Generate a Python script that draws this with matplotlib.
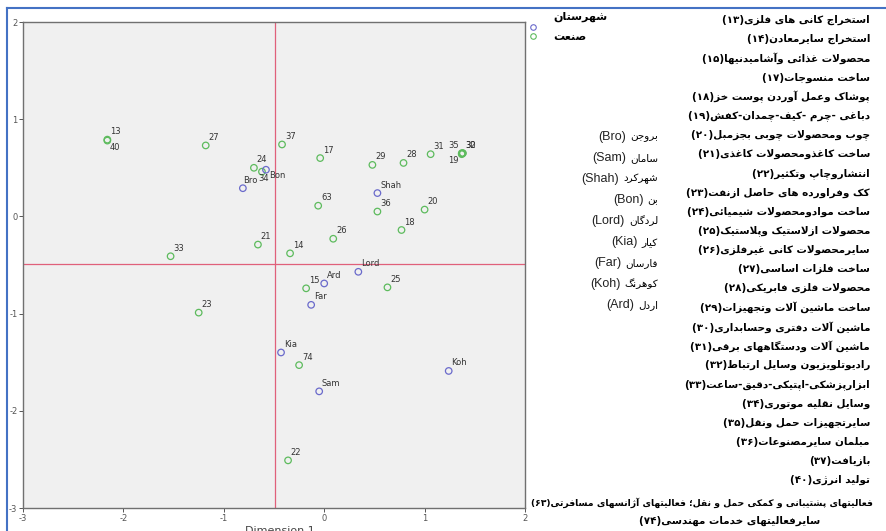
import matplotlib
matplotlib.use('Agg')
import matplotlib.pyplot as plt
from matplotlib.lines import Line2D

plt.rcParams['axes.unicode_minus'] = False

# ---- data: correspondence analysis scores (dimension 1, dimension 2) ----
ind_codes = ['13', '40', '27', '37', '24', '34', '21', '33', '14', '17', '29', '28',
             '31', '35', '30', '32', '19', '63', '36', '20', '18', '26', '15', '25',
             '23', '74', '22']
ind_x = [-2.16, -2.16, -1.18, -0.42, -0.70, -0.62, -0.66, -1.53, -0.34, -0.04, 0.48, 0.79,
         1.06, 1.37, 1.38, 1.38, 1.37, -0.06, 0.53, 1.00, 0.77, 0.09, -0.18, 0.63,
         -1.25, -0.25, -0.36]
ind_y = [0.79, 0.78, 0.73, 0.74, 0.50, 0.46, -0.29, -0.41, -0.38, 0.60, 0.53, 0.55,
         0.64, 0.65, 0.65, 0.65, 0.64, 0.11, 0.05, 0.07, -0.14, -0.23, -0.74, -0.73,
         -0.99, -1.53, -2.51]

city_codes = ['Bro', 'Sam', 'Shah', 'Bon', 'Lord', 'Kia', 'Far', 'Koh', 'Ard']
city_names = ['بروجن', 'سامان', 'شهرکرد', 'بن', 'لردگان', 'کیار', 'فارسان', 'کوهرنگ', 'اردل']
city_x = [-0.81, -0.05, 0.53, -0.58, 0.34, -0.43, -0.13, 1.24, 0.00]
city_y = [0.29, -1.80, 0.24, 0.48, -0.57, -1.40, -0.91, -1.59, -0.69]

cut_x = -0.49
cut_y = -0.485

list_nums = ['13', '14', '15', '17', '18', '19', '20', '21', '22', '23', '24', '25', '26',
             '27', '28', '29', '30', '31', '32', '33', '34', '35', '36', '37', '40', '63', '74']
list_names = [
    'استخراج کانی های فلزی',
    'استخراج سایرمعادن',
    'محصولات غذائی وآشامیدنیها',
    'ساخت منسوجات',
    'پوشاک وعمل آوردن پوست خز',
    'دباغی -چرم -کیف-چمدان-کفش',
    'چوب ومحصولات چوبی بجزمبل',
    'ساخت کاغذومحصولات کاغذی',
    'انتشاروچاپ وتکثیر',
    'کک وفراورده های حاصل ازنفت',
    'ساخت موادومحصولات شیمیائی',
    'محصولات ازلاستیک وپلاستیک',
    'سایرمحصولات کانی غیرفلزی',
    'ساخت فلزات اساسی',
    'محصولات فلزی فابریکی',
    'ساخت ماشین آلات وتجهیزات',
    'ماشین آلات دفتری وحسابداری',
    'ماشین آلات ودستگاههای برقی',
    'رادیوتلویزیون وسایل ارتباط',
    'ابزارپزشکی-اپتیکی-دقیق-ساعت',
    'وسایل نقلیه موتوری',
    'سایرتجهیزات حمل ونقل',
    'مبلمان سایرمصنوعات',
    'بازیافت',
    'تولید انرژی',
    'فعالیتهای پشتیبانی و کمکی حمل و نقل؛ فعالیتهای آژانسهای مسافرتی',
    'سایرفعالیتهای خدمات مهندسی',
]

# ---- minimal arabic shaping (matplotlib has no complex text layout) ----
FORMS = {
    'ا': ('\uFE8D', '\uFE8E'), 'آ': ('\uFE81', '\uFE82'),
    'د': ('\uFEA9', '\uFEAA'), 'ذ': ('\uFEAB', '\uFEAC'),
    'ر': ('\uFEAD', '\uFEAE'), 'ز': ('\uFEAF', '\uFEB0'),
    'ژ': ('\uFB8A', '\uFB8B'), 'و': ('\uFEED', '\uFEEE'),
    'ب': ('\uFE8F', '\uFE90', '\uFE91', '\uFE92'),
    'پ': ('\uFB56', '\uFB57', '\uFB58', '\uFB59'),
    'ت': ('\uFE95', '\uFE96', '\uFE97', '\uFE98'),
    'ث': ('\uFE99', '\uFE9A', '\uFE9B', '\uFE9C'),
    'ج': ('\uFE9D', '\uFE9E', '\uFE9F', '\uFEA0'),
    'چ': ('\uFB7A', '\uFB7B', '\uFB7C', '\uFB7D'),
    'ح': ('\uFEA1', '\uFEA2', '\uFEA3', '\uFEA4'),
    'خ': ('\uFEA5', '\uFEA6', '\uFEA7', '\uFEA8'),
    'س': ('\uFEB1', '\uFEB2', '\uFEB3', '\uFEB4'),
    'ش': ('\uFEB5', '\uFEB6', '\uFEB7', '\uFEB8'),
    'ص': ('\uFEB9', '\uFEBA', '\uFEBB', '\uFEBC'),
    'ض': ('\uFEBD', '\uFEBE', '\uFEBF', '\uFEC0'),
    'ط': ('\uFEC1', '\uFEC2', '\uFEC3', '\uFEC4'),
    'ظ': ('\uFEC5', '\uFEC6', '\uFEC7', '\uFEC8'),
    'ع': ('\uFEC9', '\uFECA', '\uFECB', '\uFECC'),
    'غ': ('\uFECD', '\uFECE', '\uFECF', '\uFED0'),
    'ف': ('\uFED1', '\uFED2', '\uFED3', '\uFED4'),
    'ق': ('\uFED5', '\uFED6', '\uFED7', '\uFED8'),
    'ک': ('\uFB8E', '\uFB8F', '\uFB90', '\uFB91'),
    'گ': ('\uFB92', '\uFB93', '\uFB94', '\uFB95'),
    'ل': ('\uFEDD', '\uFEDE', '\uFEDF', '\uFEE0'),
    'م': ('\uFEE1', '\uFEE2', '\uFEE3', '\uFEE4'),
    'ن': ('\uFEE5', '\uFEE6', '\uFEE7', '\uFEE8'),
    'ه': ('\uFEE9', '\uFEEA', '\uFEEB', '\uFEEC'),
    'ی': ('\uFBFC', '\uFBFD', '\uFBFE', '\uFBFF'),
    'ئ': ('\uFE89', '\uFE8A', '\uFE8B', '\uFE8C'),
}
LAM_ALEF = {'ا': ('\uFEFB', '\uFEFC'), 'آ': ('\uFEF5', '\uFEF6')}


def shape(s):
    out = []
    i = 0
    while i < len(s):
        c = s[i]
        if c not in FORMS:
            out.append(c)
            i += 1
            continue
        prev = s[i - 1] if i > 0 else ''
        left = prev in FORMS and len(FORMS[prev]) == 4
        if c == 'ل' and i + 1 < len(s) and s[i + 1] in LAM_ALEF:
            lig = LAM_ALEF[s[i + 1]]
            out.append(lig[1] if left else lig[0])
            i += 2
            continue
        f = FORMS[c]
        nxt = s[i + 1] if i + 1 < len(s) else ''
        right = len(f) == 4 and nxt in FORMS
        if left and right:
            out.append(f[3])
        elif left:
            out.append(f[1])
        elif right:
            out.append(f[2])
        else:
            out.append(f[0])
        i += 1
    return ''.join(out)


def rtl(s):
    return shape(s)[::-1]


def fa_digits(s):
    return s.translate(str.maketrans('0123456789', '۰۱۲۳۴۵۶۷۸۹'))


# ---- figure ----
W, H = 886, 531
fig = plt.figure(figsize=(W / 100, H / 100), dpi=100)
fig.patch.set_facecolor('white')

ax = fig.add_axes([23 / W, 1 - 508 / H, 502 / W, 486 / H])
ax.set_facecolor('#f0f0f0')
ax.set_xlim(-3, 2)
ax.set_ylim(-3, 2)
for sp in ax.spines.values():
    sp.set_color('#707070')
    sp.set_linewidth(1.0)
ax.set_xticks([-3, -2, -1, 0, 1, 2])
ax.set_yticks([-3, -2, -1, 0, 1, 2])
ax.tick_params(labelsize=6, colors='#555555', length=3, width=0.7, pad=1)

ax.axvline(cut_x, color='#e0607a', lw=0.9, zorder=1)
ax.axhline(cut_y, color='#e0607a', lw=0.9, zorder=1)

blue = '#6a6acb'
green = '#5dbb5d'
ax.scatter(ind_x, ind_y, s=22, facecolors='none', edgecolors=green, linewidths=0.9, zorder=3)
ax.scatter(city_x, city_y, s=22, facecolors='none', edgecolors=blue, linewidths=0.9, zorder=3)

# label placement tweaks (offset points, ha, va)
special = {
    '40': ((2, -2), 'left', 'top'),
    '35': ((-2, 2), 'right', 'bottom'),
    '19': ((-2, -1), 'right', 'top'),
    '34': ((1.5, -2), 'center', 'top'),
    'Bon': ((2, -1), 'left', 'top'),
    'Bro': ((0, 2.5), 'left', 'bottom'),
}
lab_kw = dict(textcoords='offset points', fontsize=6, color='#333333', zorder=4)
for lab, x, y in list(zip(ind_codes, ind_x, ind_y)) + list(zip(city_codes, city_x, city_y)):
    off, ha, va = special.get(lab, ((2, 2.5), 'left', 'bottom'))
    ax.annotate(lab, (x, y), xytext=off, ha=ha, va=va, **lab_kw)

fig.text(245 / W, 1 - 536 / H, 'Dimension 1', fontsize=8, color='#444444', ha='left', va='bottom')

# legend
fig.add_artist(Line2D([533 / W], [1 - 27 / H], marker='o', ms=4, mfc='none', mec=blue, mew=0.8, ls=''))
fig.add_artist(Line2D([533 / W], [1 - 36 / H], marker='o', ms=4, mfc='none', mec=green, mew=0.8, ls=''))
fig.text(553 / W, 1 - 17 / H, rtl('شهرستان'), fontsize=8, fontweight='bold', ha='left', va='center')
fig.text(553 / W, 1 - 37 / H, rtl('صنعت'), fontsize=8, fontweight='bold', ha='left', va='center')

# industry list
rows_y = [20 + 19.17 * i for i in range(25)] + [503, 521]
rows_x = [870] * 25 + [873, 820]
rows_fs = [7.5] * 25 + [6.7, 7.5]
for num, name, ry, rx, fs in zip(list_nums, list_names, rows_y, rows_x, rows_fs):
    s = '(' + fa_digits(num) + ')' + rtl(name)
    fig.text(rx / W, 1 - ry / H, s, fontsize=fs, fontweight='bold', ha='right', va='center')

# city list
fig.canvas.draw()
renderer = fig.canvas.get_renderer()
for i, (code, name) in enumerate(zip(city_codes, city_names)):
    ry = 137 + 21 * i
    t = fig.text(658 / W, 1 - ry / H, rtl(name), fontsize=7.5, ha='right', va='center')
    bb = t.get_window_extent(renderer)
    fig.text((bb.x0 - 4) / W, 1 - ry / H, '(' + code + ')', fontsize=9, color='#222222',
             ha='right', va='center', family='Liberation Sans')

# page frame lines
fig.add_artist(Line2D([7 / W, 1], [1 - 8 / H, 1 - 8 / H], color='#4472c4', lw=1.5))
fig.add_artist(Line2D([7 / W, 7 / W], [0, 1 - 8 / H], color='#4472c4', lw=1.5))

fig.savefig('out.png', dpi=100)
